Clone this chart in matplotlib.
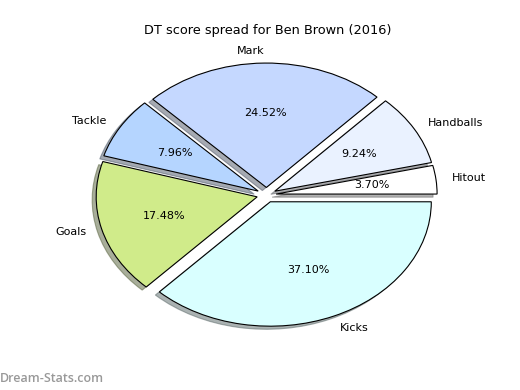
import matplotlib
matplotlib.use('Agg')
import matplotlib.pyplot as plt

# --- Data ---
labels = ['Hitout', 'Handballs', 'Mark', 'Tackle', 'Goals', 'Kicks']
shares = [3.70, 9.24, 24.52, 7.96, 17.48, 37.10]
colors = ['#ffffff', '#eaf2ff', '#c5d8ff', '#b5d5ff', '#d0eb8a', '#d9ffff']
explode = [0.06] * len(labels)

fig = plt.figure(figsize=(5.2, 3.9), dpi=100)
ax = fig.add_axes([0.1255, 0.1015, 0.774, 0.7974])

wedges, texts, autotexts = ax.pie(
    shares, labels=labels, colors=colors, explode=explode,
    autopct='%1.2f%%', shadow={'ox': -0.018, 'oy': -0.018, 'shade': 0.6},
    startangle=0,
    wedgeprops={'edgecolor': 'black', 'linewidth': 0.8},
    textprops={'fontsize': 8},
)
ax.set_xlim(-1.25, 1.25)
ax.set_ylim(-1.25, 1.25)
ax.set_aspect('auto')

fig.text(0.515, 0.923, 'DT score spread for Ben Brown (2016)', ha='center', va='center',
         fontsize=9.3)
fig.text(0.0, 0.012, 'Dream-Stats.com', color='#999999', fontsize=9, ha='left', va='bottom',
         family='Open Sans', weight='semibold')

fig.savefig('out.png', dpi=100)
